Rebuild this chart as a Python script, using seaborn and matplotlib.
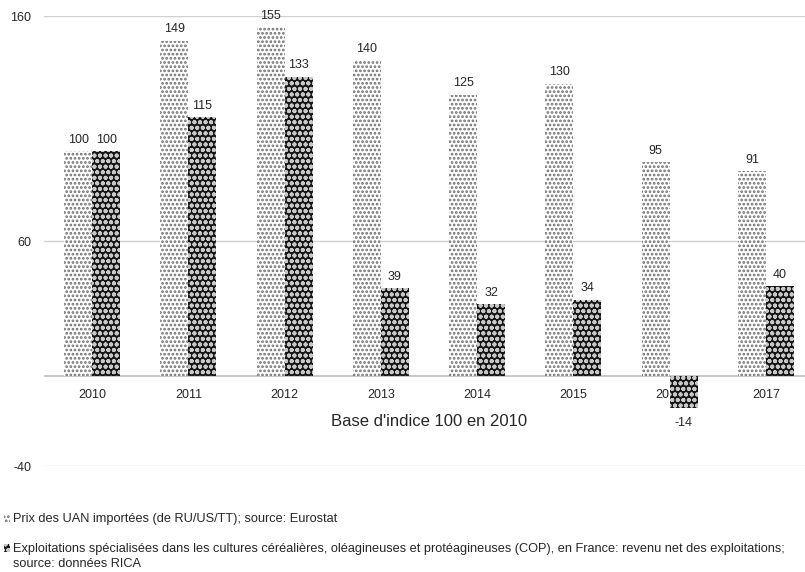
import matplotlib
matplotlib.use("Agg")
import matplotlib.pyplot as plt
from matplotlib.patches import Patch
import seaborn as sns
import pandas as pd

years = ["2010", "2011", "2012", "2013", "2014", "2015", "2016", "2017"]
prix_uan = [100, 149, 155, 140, 125, 130, 95, 91]
revenu_cop = [100, 115, 133, 39, 32, 34, -14, 40]
series_names = [
    "Prix des UAN importées (de RU/US/TT); source: Eurostat",
    "Exploitations spécialisées dans les cultures céréalières, oléagineuses et protéagineuses (COP), en France: revenu net des exploitations;",
]
source_note = "source: données RICA"
y_ticks = [-40, 60, 160]
axis_title = "Base d'indice 100 en 2010"

df = pd.DataFrame({
    "year": years * 2,
    "value": prix_uan + revenu_cop,
    "serie": [series_names[0]] * len(years) + [series_names[1]] * len(years),
})

sns.set_theme(style="white")
plt.rcParams["font.family"] = ["Liberation Sans", "DejaVu Sans"]
plt.rcParams["hatch.linewidth"] = 1.3
text_color = "#262626"

fig = plt.figure(figsize=(8.05, 5.72), dpi=100)
ax = fig.add_axes([0.0547, 0.185, 0.9565, 0.787])

styles = [
    dict(facecolor="white", edgecolor="#6e6e6e", hatch="...."),
    dict(facecolor="#161616", edgecolor="#c8c8c8", hatch="ooo"),
]

sns.barplot(data=df, x="year", y="value", hue="serie", order=years,
            hue_order=series_names, width=0.58, ax=ax, legend=False,
            zorder=3, linewidth=0)

for cont, st in zip(ax.containers, styles):
    for bar in cont:
        bar.set_facecolor(st["facecolor"])
        bar.set_edgecolor(st["edgecolor"])
        bar.set_hatch(st["hatch"])
        bar.set_linewidth(0)
    anns = ax.bar_label(cont, padding=4, fontsize=9, color=text_color)
    for ann, bar in zip(anns, cont):
        if bar.get_height() < 0:
            ann.xyann = (0, -7)

ax.set_ylim(-40, 160)
ax.set_xlim(-0.5, 7.5)
ax.set_yticks(y_ticks)
ax.set_yticklabels([str(v) for v in y_ticks], fontsize=9, color=text_color)
ax.tick_params(axis="y", length=0, pad=9)
ax.set_xticks([])
ax.set_xlabel("")
ax.set_ylabel("")
for sp in ax.spines.values():
    sp.set_visible(False)
ax.grid(axis="y", color="#d0d0d0", linewidth=1, zorder=0)
ax.axhline(0, color="#bfbfbf", linewidth=1.2, zorder=2)

# category labels sit just under the zero line
for i, yr in enumerate(years):
    ax.text(i, -8.5, yr, ha="center", va="center", fontsize=9,
            color=text_color, zorder=1)
ax.text(3.5, -20, axis_title, ha="center", va="center", fontsize=12,
        color=text_color)

handles = [Patch(facecolor=st["facecolor"], edgecolor=st["edgecolor"],
                 hatch=st["hatch"], linewidth=0) for st in styles]
leg = fig.legend(handles, series_names, loc="upper left",
                 bbox_to_anchor=(0.0, 0.109), frameon=False,
                 handlelength=0.5, handleheight=0.6, handletextpad=0.25,
                 labelspacing=1.4, borderaxespad=0.0, borderpad=0.3,
                 prop={"size": 9.2}, labelcolor=text_color)

# continuation line of the second legend entry, aligned with its text
fig.canvas.draw()
bb = leg.get_texts()[1].get_window_extent()
fig.text(bb.x0, bb.y0 - 15, source_note, ha="left", va="bottom",
         transform=None, fontsize=9.2, color=text_color)

fig.savefig("out.png", dpi=100)
